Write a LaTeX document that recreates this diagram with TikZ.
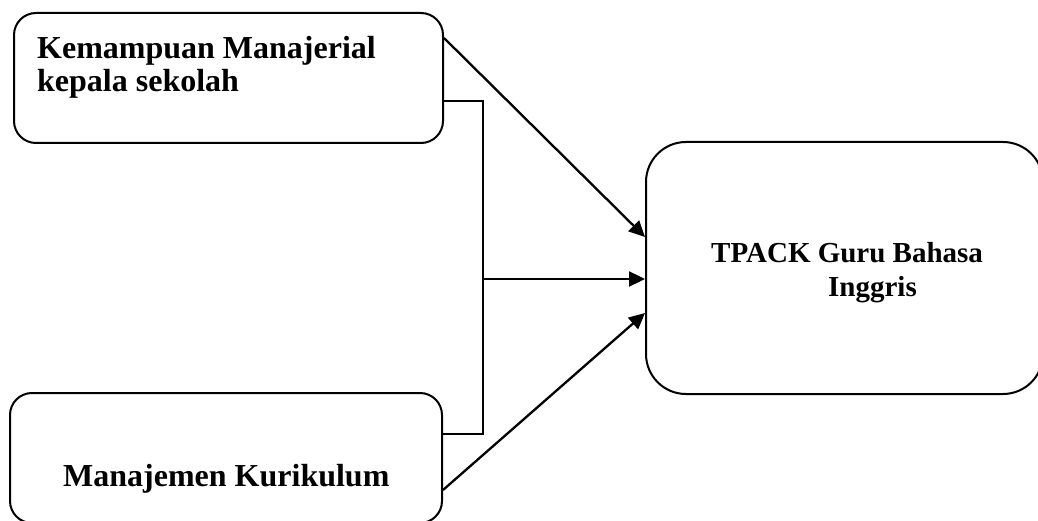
\documentclass[tikz,border=0pt]{standalone}
\usepackage{fontspec}
\setmainfont{Liberation Serif}
\usetikzlibrary{arrows.meta}
\begin{document}
\begin{tikzpicture}[x=1pt,y=-1pt,
  box/.style={draw,line width=2pt,rounded corners=22pt,rectangle,inner sep=0pt},
  bigbox/.style={draw,line width=2pt,rounded corners=40pt,rectangle,inner sep=0pt},
  lbl/.style={anchor=base west,inner sep=0pt,font=\bfseries\fontsize{32}{38}\selectfont},
  rlbl/.style={anchor=base west,inner sep=0pt,font=\bfseries\fontsize{29}{35}\selectfont},
  conn/.style={line width=2.3pt},
  arr/.style={conn,-{Triangle[length=16pt,width=15pt]}}]
\useasboundingbox (0,0) rectangle (1038,521);
\node[box,minimum width=429pt,minimum height=130pt] (top) at (228.5,78) {};
\node[box,minimum width=432pt,minimum height=130pt] (bot) at (226,458) {};
\node[bigbox,minimum width=397pt,minimum height=252pt] (tpack) at (844.5,268) {};
\node[lbl] (t1) at (37,58.5) {Kemampuan Manajerial};
\node[lbl] (t2) at (37,91.5) {kepala sekolah};
\node[lbl] (b1) at (63,486.5) {Manajemen Kurikulum};
\node[rlbl] (r1) at (711,262) {TPACK Guru Bahasa};
\node[rlbl] (r2) at (828,296) {Inggris};
\coordinate (bus) at (483,279);
\draw[arr] ([yshift=40pt]top.east) -- ([yshift=31pt]tpack.west);
\draw[conn] ([yshift=-23pt]top.east) -| (bus) |- ([yshift=24pt]bot.east);
\draw[arr] (bus) -- ([yshift=-11pt]tpack.west);
\draw[arr] ([yshift=-32pt]bot.east) -- ([yshift=-45pt]tpack.west);
\end{tikzpicture}
\end{document}
